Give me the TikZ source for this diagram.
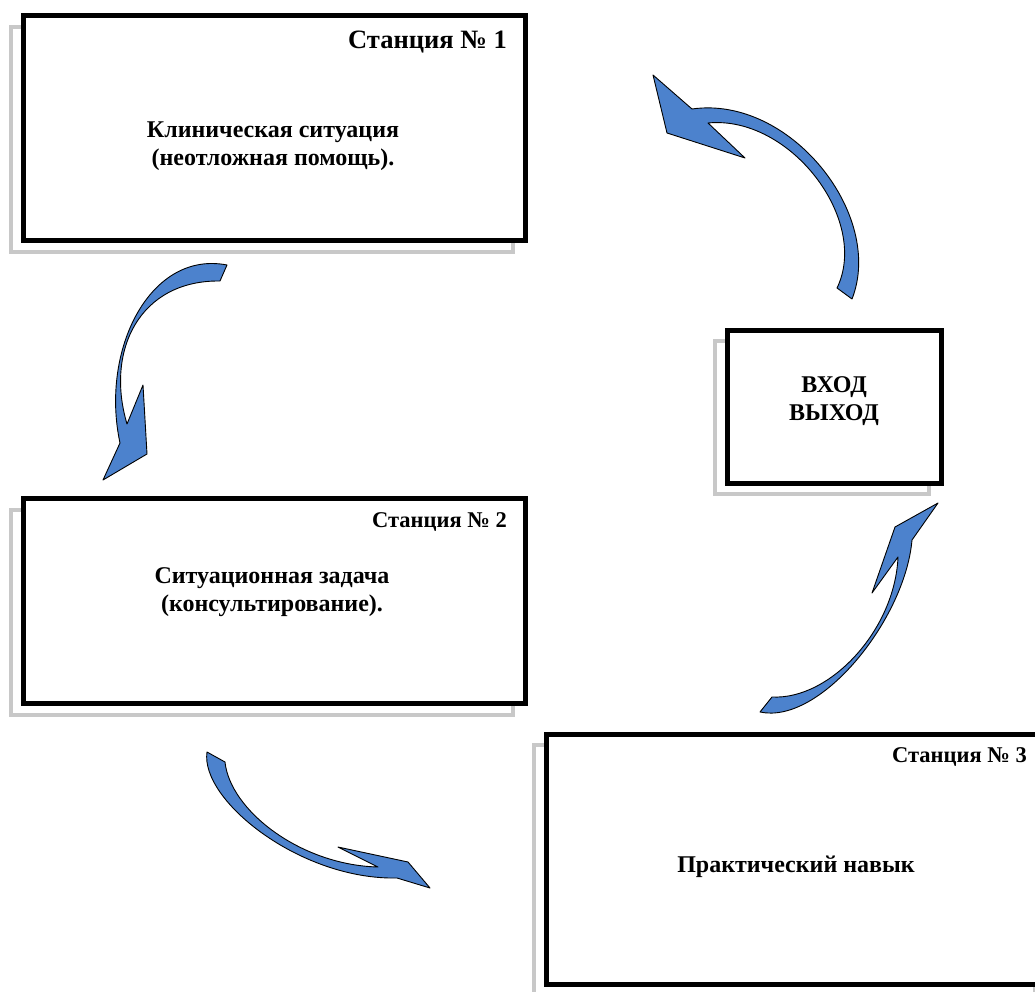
\documentclass[tikz,border=0pt]{standalone}
\usepackage{fontspec}
\setmainfont{Liberation Serif}
\usetikzlibrary{positioning,backgrounds}
\definecolor{arrowblue}{RGB}{76,130,205}
\definecolor{shadowgray}{RGB}{200,200,200}

\begin{document}
\begin{tikzpicture}[x=1pt, y=-1pt,
        box/.style = {draw, line width=5pt, fill=white, inner sep=0pt, outer sep=0pt},
        ghost/.style = {draw=shadowgray, line width=4pt},
        title/.style = {font=\fontsize{22.5}{26}\selectfont\bfseries, anchor=east, inner sep=0pt},
        body/.style = {font=\fontsize{24}{27.5}\selectfont\bfseries, align=center, inner sep=0pt},
        blockarrow/.style = {fill=arrowblue, draw=black, line width=0.9pt, line join=round}]
        \useasboundingbox (0,0) rectangle (1035,992);

        \node[box, minimum width=502, minimum height=225] (st1) at (274,128.5) {};
        \node[box, minimum width=502, minimum height=205] (st2) at (274,601) {};
        \node[box, minimum width=501, minimum height=250] (st3) at (796.5,859) {};
        \node[box, minimum width=214, minimum height=153] (io) at (834,406.5) {};

        \begin{scope}[on background layer]
            \foreach \b in {st1,st2,st3,io}
                \draw[ghost] ([shift={(-12,11)}]\b.north west) rectangle ([shift={(-12,11)}]\b.south east);
        \end{scope}

        \node[title, font=\fontsize{26.5}{30}\selectfont\bfseries] (t1) at (507,42) {Станция №~1};
        \node[body] (b1) at (273,146) {Клиническая ситуация\\(неотложная помощь).};
        \node[title] (t2) at (507,522) {Станция №~2};
        \node[body] (b2) at (272,592) {Ситуационная задача\\ (консультирование).};
        \node[title] (t3) at (1027,757) {Станция №~3};
        \node[body] (b3) at (796,867) {Практический навык};
        \node[body] (b4) at (834,401) {ВХОД\\ВЫХОД};

        \draw[blockarrow] (852,299) .. controls (885,215) and (790,95) .. (692,109) -- (653,75) -- (667,133) -- (745,158) -- (708,123) .. controls (790,115) and (870,220) .. (837,288) -- cycle;
        \draw[blockarrow] (227,265) .. controls (150,250) and (100,350) .. (120,443) -- (103,480) -- (147,454) -- (143,385) -- (127,424) .. controls (105,350) and (140,280) .. (220,281) -- cycle;
        \draw[blockarrow] (207,752) .. controls (200,800) and (300,880) .. (397,878) -- (430,888) -- (408,862) -- (338,847) -- (378,867) .. controls (300,865) and (230,810) .. (225,762) -- cycle;
        \draw[blockarrow] (760,712) .. controls (820,725) and (905,620) .. (912,540) -- (938,503) -- (895,527) -- (872,593) -- (898,557) .. controls (895,630) and (830,700) .. (772,697) -- cycle;

    \end{tikzpicture}
\end{document}
